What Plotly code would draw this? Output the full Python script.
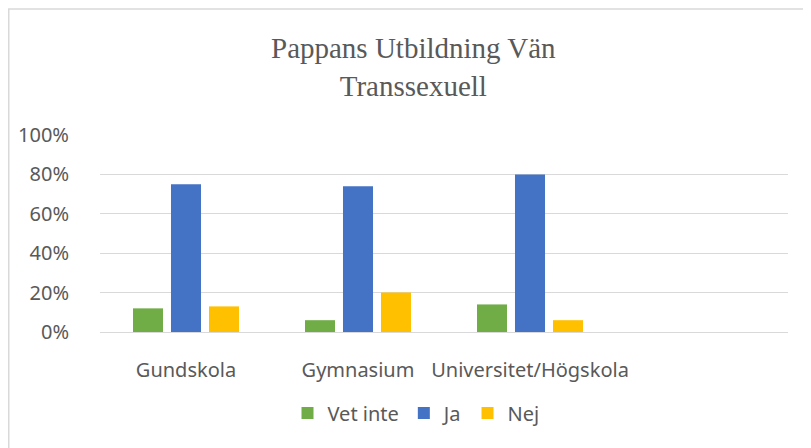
import plotly.graph_objects as go

categories = ["Gundskola", "Gymnasium", "Universitet/Högskola"]
series_names = ["Vet inte", "Ja", "Nej"]
vet_inte = [0.12, 0.06, 0.14]
ja = [0.75, 0.74, 0.80]
nej = [0.13, 0.20, 0.06]
colors = ["#70ad47", "#4472c4", "#ffc000"]
y_ticks = [0, 0.2, 0.4, 0.6, 0.8, 1.0]
y_tick_labels = ["0%", "20%", "40%", "60%", "80%", "100%"]
title_text = "Pappans Utbildning Vän<br>Transsexuell"

# page body adds an 8px offset; layout is expressed in reference pixels minus 8
OFF = 8
PL, PR, PT, PB = 100 - OFF, 788 - OFF, 135 - OFF, 332 - OFF
W, H = 811, 448
PW, PH = PR - PL, PB - PT


def px_x(x):
    return (x - OFF - PL) / PW


def px_y(y):
    return (PB - (y - OFF)) / PH


x_pos = list(range(len(categories)))
fig = go.Figure()
for name, vals, col in zip(series_names, [vet_inte, ja, nej], colors):
    fig.add_trace(go.Bar(x=x_pos, y=vals, name=name, marker=dict(color=col, line=dict(width=0))))

font_main = "Noto Sans, Open Sans, sans-serif"
title_font = dict(family="Liberation Serif, Times New Roman, serif", size=29, color="#595959")
fig.update_layout(
    width=W, height=H,
    margin=dict(l=PL, r=W - PR, t=PT, b=H - PB),
    paper_bgcolor="white", plot_bgcolor="white",
    barmode="group", bargap=0.337, bargroupgap=0.21,
    font=dict(family=font_main, size=20, color="#595959"),
    legend=dict(orientation="h", xref="container", yref="container", x=(416 - OFF) / W, xanchor="center",
                y=1 - (413 - OFF) / H, yanchor="middle",
                font=dict(size=20, color="#595959"), itemwidth=30, traceorder="normal"),
    xaxis=dict(range=[-0.5, 3.5], tickvals=x_pos, ticktext=categories, showgrid=False,
               zeroline=False, showline=False, ticks="outside", ticklen=20, tickcolor="rgba(0,0,0,0)",
               tickfont=dict(size=20, color="#595959"), automargin=False),
    yaxis=dict(range=[0, 1.0], tickvals=y_ticks, ticktext=y_tick_labels, showgrid=True,
               gridcolor="#d9d9d9", gridwidth=1, zeroline=True, zerolinecolor="#d9d9d9",
               zerolinewidth=1, showline=False, ticks="outside", ticklen=26,
               tickcolor="rgba(0,0,0,0)", tickfont=dict(size=20, color="#595959"), automargin=False),
    annotations=[
        dict(text=title_text, xref="paper", yref="paper", x=px_x(413), y=px_y(67),
             xanchor="center", yanchor="middle", showarrow=False, font=title_font),
    ],
    shapes=[dict(type="rect", xref="paper", yref="paper",
                 x0=px_x(OFF + 0.75), x1=px_x(830), y0=px_y(470), y1=px_y(9),
                 line=dict(color="#d9d9d9", width=1.5), fillcolor="rgba(0,0,0,0)", layer="below")],
)
fig.write_html("out.html")
